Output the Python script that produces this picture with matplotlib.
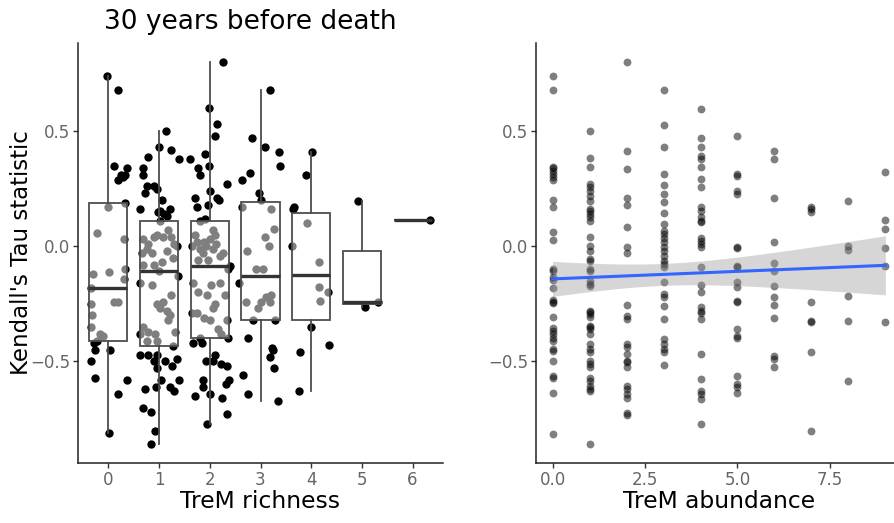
import numpy as np
import matplotlib.pyplot as plt

# Kendall's tau, panel izquierdo: por riqueza de TreM (desplazamiento de jitter, valor)
jit_r0 = [-0.03, 0.18, 0.11, 0.36, 0.33, 0.19, 0.29, 0.32, 0.25,
          0.0, -0.23, 0.30, 0.01, 0.32, 0.30, 0.11, 0.18, -0.34, -0.33, -0.34, -0.17, -0.10, -0.30, -0.35,
          -0.28, -0.27, -0.34, -0.27, 0.04, 0.18, 0.36, 0.02, -0.22]
tau_r0 = [0.74, 0.68, 0.35, 0.34, 0.31, 0.29, 0.30, 0.19, 0.31,
          0.17, 0.06, 0.03, -0.11, -0.10, -0.14, -0.24, -0.24, -0.25, -0.30, -0.35, -0.38, -0.39, -0.12, -0.18,
          -0.42, -0.45, -0.50, -0.57, -0.45, -0.64, -0.58, -0.81, -0.41]

jit_r1 = [0.13, -0.01, -0.21, -0.31, -0.32, 0.23, 0.40, -0.27, -0.10, -0.23, -0.05, 0.05, -0.37, -0.03, 0.10, 0.22, 0.15, 0.02,
          0.02, -0.11, -0.31, -0.24, 0.08, 0.23, 0.29, 0.15, -0.31, -0.14, -0.34, -0.05, 0.18, -0.21, 0.27, 0.35, 0.05, -0.11,
          0.0,
          -0.37, -0.14, 0.23, -0.05, 0.02, 0.15, 0.22, 0.18, -0.31, -0.21, -0.08, 0.31, -0.05, -0.24, -0.37, 0.08, 0.38, 0.28,
          -0.37, -0.21, -0.05, -0.10, -0.05, 0.12, 0.25, 0.36, 0.39, 0.03, -0.07, 0.22, 0.29, -0.27, -0.32, -0.16, -0.08, -0.16]
tau_r1 = [0.50, 0.43, 0.39, 0.34, 0.31, 0.42, 0.38, 0.23, 0.26, 0.26, 0.25, 0.20, 0.16, 0.15, 0.14, 0.16, 0.13, 0.155,
          0.11, 0.04, 0.03, -0.01, 0.04, 0.04, 0.01, -0.02, -0.08, -0.03, -0.03, 0.05, 0.07, 0.01, -0.05, 0.0, -0.07, -0.08,
          -0.106,
          -0.16, -0.17, -0.21, -0.25, -0.27, -0.28, -0.30, -0.32, -0.35, -0.37, -0.38, -0.37, -0.41, -0.41, -0.38, -0.24, -0.13, -0.435,
          -0.47, -0.47, -0.47, -0.50, -0.53, -0.50, -0.52, -0.49, -0.58, -0.58, -0.61, -0.61, -0.63, -0.62, -0.70, -0.72, -0.80, -0.86]

jit_r2 = [0.27, -0.01, 0.14, 0.10, -0.10, -0.01, -0.23, -0.20, -0.39, 0.33, 0.0, 0.14, 0.18, -0.30, -0.26, -0.03, -0.10,
          -0.20, 0.07, -0.30, 0.0, -0.12, 0.13, -0.36, -0.20, -0.07, -0.26, 0.07, 0.20, -0.13, 0.10, 0.27, -0.03, -0.23,
          0.40,
          -0.33, 0.03, 0.20, -0.23, -0.05, 0.29, 0.10, -0.26, -0.12, 0.0, -0.36, 0.34, 0.16, -0.20, 0.07, 0.36, 0.23,
          0.36, -0.34, -0.16, 0.10, -0.08, 0.07, 0.23, 0.33, 0.37, -0.13, -0.13, 0.31, 0.0, -0.29, 0.25, 0.34, -0.05]
tau_r2 = [0.80, 0.60, 0.53, 0.48, 0.40, 0.35, 0.34, 0.31, 0.38, 0.27, 0.24, 0.21, 0.20, 0.21, 0.17, 0.18, 0.12,
          0.11, 0.07, 0.05, 0.03, 0.02, 0.01, 0.0, -0.01, 0.0, 0.02, -0.01, -0.04, -0.03, 0.05, -0.03, -0.06, -0.06,
          -0.087,
          -0.16, -0.17, -0.16, -0.20, -0.21, -0.21, -0.25, -0.29, -0.31, -0.32, -0.29, -0.32, -0.36, -0.40, -0.27, -0.10, -0.38,
          -0.40, -0.42, -0.42, -0.47, -0.50, -0.50, -0.51, -0.52, -0.58, -0.58, -0.61, -0.60, -0.64, -0.65, -0.66, -0.73, -0.77]

jit_r3 = [0.18, -0.17, 0.08, 0.36, 0.39, -0.20, -0.36, -0.02,
          0.01, -0.36, 0.21, 0.27, -0.27, 0.08, 0.16, -0.08, 0.05, -0.42,
          -0.28, 0.01, 0.11, 0.21, -0.05, 0.18, -0.15, 0.29,
          -0.25, 0.23, 0.25, 0.19, 0.27, -0.35, -0.25, 0.34]
tau_r3 = [0.68, 0.47, 0.43, 0.41, 0.35, 0.32, 0.29, 0.23,
          0.20, 0.17, 0.16, 0.075, -0.02, 0.04, 0.0, -0.10, -0.10, -0.16,
          -0.24, -0.24, -0.22, -0.21, -0.27, -0.24, -0.32, -0.32,
          -0.40, -0.44, -0.45, -0.48, -0.53, -0.56, -0.64, -0.67]

jit_r4 = [0.01, -0.11, -0.35, -0.33, -0.37, -0.08, 0.15, 0.15, 0.18, 0.33, 0.0, -0.23, 0.35, -0.24]
tau_r4 = [0.41, 0.31, 0.16, 0.17, 0.0, 0.10, -0.07, -0.175, -0.236, -0.20, -0.35, -0.46, -0.43, -0.63]

jit_r5 = [-0.07, 0.07, 0.31]
tau_r5 = [0.199, -0.262, -0.243]

jit_r6 = [0.35]
tau_r6 = [0.116]

# Panel derecho: por abundancia de TreM (0..9)
tau_a0 = [0.738, 0.677, 0.346, 0.339, 0.329, 0.314, 0.300, 0.288, 0.201, 0.170, 0.064, 0.028, -0.099, -0.109,
          -0.135, -0.146, -0.181, -0.233, -0.241, -0.248, -0.306, -0.355, -0.367, -0.381, -0.396, -0.410, -0.446,
          -0.454, -0.497, -0.562, -0.572, -0.635, -0.813]
tau_a1 = [0.499, 0.384, 0.343, 0.271, 0.257, 0.242, 0.220, 0.199, 0.162, 0.155, 0.141, 0.126, 0.109, 0.042, 0.003,
          -0.022, -0.055, -0.065, -0.099, -0.109, -0.149, -0.164, -0.171, -0.280, -0.287, -0.294, -0.306, -0.345,
          -0.352, -0.359, -0.381, -0.425, -0.446, -0.461, -0.497, -0.512, -0.526, -0.570, -0.584, -0.606, -0.620,
          -0.628, -0.859]
tau_a2 = [0.799, 0.416, 0.336, 0.210, 0.181, 0.083, -0.004, -0.030, -0.254, -0.301, -0.316, -0.425, -0.439, -0.468,
          -0.497, -0.504, -0.526, -0.606, -0.620, -0.642, -0.657, -0.722, -0.732]
tau_a3 = [0.680, 0.529, 0.433, 0.312, 0.268, 0.228, 0.191, 0.146, 0.097, 0.068, 0.054, 0.036, 0.017, -0.001, -0.022,
          -0.041, -0.062, -0.077, -0.091, -0.157, -0.207, -0.222, -0.258, -0.316, -0.403, -0.425, -0.446, -0.461, -0.514]
tau_a4 = [0.596, 0.471, 0.433, 0.394, 0.380, 0.346, 0.293, 0.259, 0.172, 0.155, 0.129, 0.112, 0.104, 0.036, 0.025,
          0.010, -0.004, -0.088, -0.167, -0.200, -0.262, -0.280, -0.291, -0.316, -0.468, -0.577, -0.628, -0.642,
          -0.664, -0.770]
tau_a5 = [0.477, 0.312, 0.307, 0.242, 0.228, -0.004, -0.007, -0.084, -0.088, -0.157, -0.175, -0.236, -0.243, -0.359,
          -0.388, -0.396, -0.562, -0.599, -0.610, -0.635]
tau_a6 = [0.413, 0.378, 0.210, 0.017, -0.072, -0.109, -0.174, -0.219, -0.254, -0.312, -0.475, -0.490, -0.526]
tau_a7 = [0.172, 0.162, 0.148, -0.243, -0.323, -0.330, -0.457, -0.801]
tau_a8 = [0.199, 0.003, -0.016, -0.214, -0.326, -0.584]
tau_a9 = [0.322, 0.114, 0.075, -0.007, -0.084, -0.328]

riqueza = [0, 1, 2, 3, 4, 5, 6]
jitters = [jit_r0, jit_r1, jit_r2, jit_r3, jit_r4, jit_r5, jit_r6]
taus_r = [tau_r0, tau_r1, tau_r2, tau_r3, tau_r4, tau_r5, tau_r6]
taus_a = [tau_a0, tau_a1, tau_a2, tau_a3, tau_a4, tau_a5, tau_a6, tau_a7, tau_a8, tau_a9]

plt.rcParams['font.family'] = 'DejaVu Sans'
fig = plt.figure(figsize=(8.94, 5.23), dpi=100)
ax1 = fig.add_axes([78 / 894, 1 - 463 / 523, 365 / 894, 420 / 523])
ax2 = fig.add_axes([536 / 894, 1 - 463 / 523, 366 / 894, 420 / 523])

gris_linea = '#4d4d4d'

# Puntos con jitter
for r, jit, tau in zip(riqueza, jitters, taus_r):
    ax1.scatter(np.array(jit) + r, tau, s=36, color='black', linewidths=0, zorder=1)

# Cajas encima con relleno blanco semitransparente
ax1.boxplot(taus_r, positions=riqueza, widths=0.75, whis=1.5, showfliers=False,
            patch_artist=True, manage_ticks=False,
            boxprops=dict(facecolor=(1, 1, 1, 0.5), edgecolor=gris_linea, linewidth=1.3),
            whiskerprops=dict(color=gris_linea, linewidth=1.3),
            capprops=dict(linewidth=0),
            medianprops=dict(color='#333333', linewidth=2.4),
            zorder=2)

ax1.set_xlim(-0.6, 6.6)
ax1.set_xticks(riqueza)
ax1.set_xlabel('TreM richness', fontsize=16.8, labelpad=1)
ax1.set_ylabel("Kendall's Tau statistic", fontsize=16.5, labelpad=-2)

# Panel derecho
x_all = np.concatenate([np.full(len(t), i) for i, t in enumerate(taus_a)])
y_all = np.concatenate(taus_a)
ax2.scatter(x_all, y_all, s=32, color='black', alpha=0.5, linewidths=0, zorder=1)

b, a = np.polyfit(x_all, y_all, 1)
n = len(x_all)
xs = np.linspace(0, 9, 80)
resid = y_all - (a + b * x_all)
s_err = np.sqrt(np.sum(resid ** 2) / (n - 2))
se = s_err * np.sqrt(1 / n + (xs - x_all.mean()) ** 2 / np.sum((x_all - x_all.mean()) ** 2))
t_crit = 1.971
ys = a + b * xs
ax2.fill_between(xs, ys - t_crit * se, ys + t_crit * se, color='#999999', alpha=0.4, linewidth=0, zorder=2)
ax2.plot(xs, ys, color='#3366FF', linewidth=2.2, zorder=3)

ax2.set_xlim(-0.45, 9.45)
ax2.set_xticks([0, 2.5, 5, 7.5])
ax2.set_xticklabels(['0.0', '2.5', '5.0', '7.5'])
ax2.set_xlabel('TreM abundance', fontsize=16.8, labelpad=1)

for ax in (ax1, ax2):
    ax.set_ylim(-0.941, 0.883)
    ax.set_yticks([-0.5, 0.0, 0.5])
    ax.set_yticklabels(['\u22120.5', '0.0', '0.5'])
    ax.spines['top'].set_visible(False)
    ax.spines['right'].set_visible(False)
    ax.spines['left'].set_linewidth(1.1)
    ax.spines['bottom'].set_linewidth(1.1)
    ax.spines['left'].set_color('#222222')
    ax.spines['bottom'].set_color('#222222')
    ax.tick_params(length=3.5, width=1.0, color='#333333', labelcolor='#666666', labelsize=12, pad=2)

fig.text(250 / 894, 1 - 22 / 523, '30 years before death', fontsize=19, ha='center', va='center')

fig.savefig('out.png', dpi=100)
